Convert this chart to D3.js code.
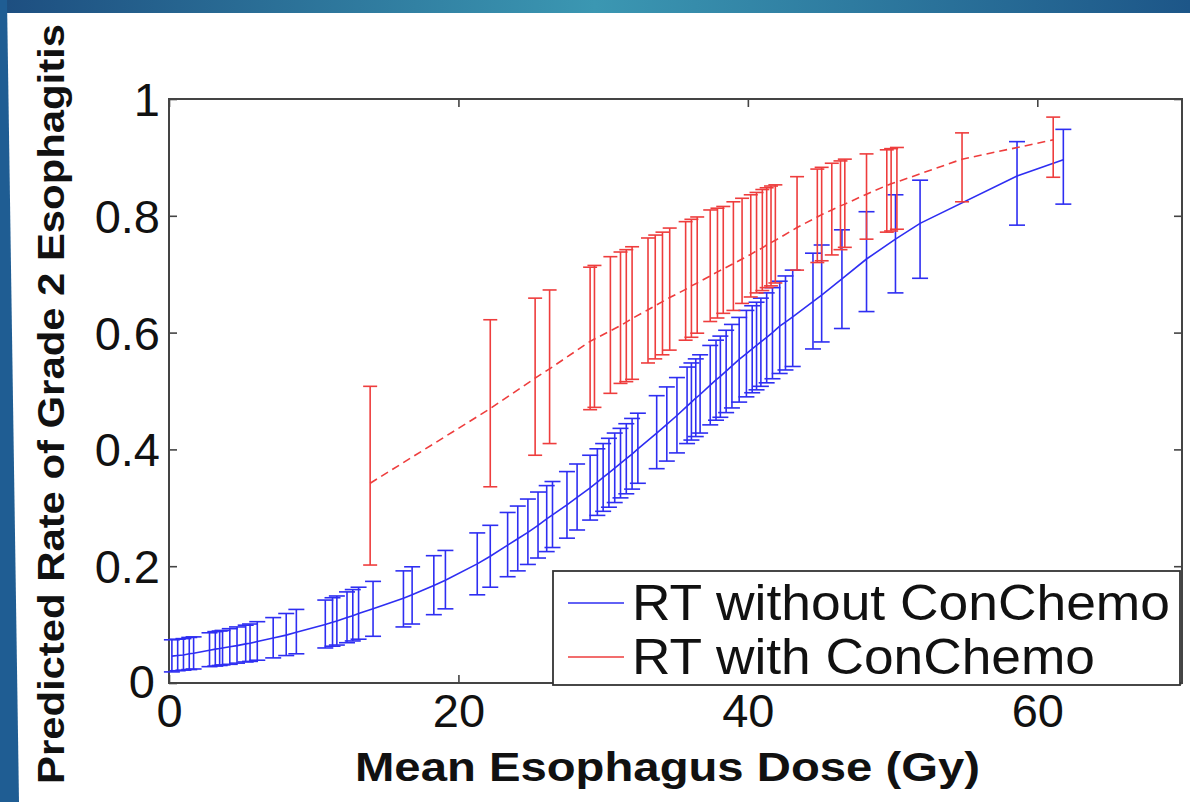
<!DOCTYPE html>
<html><head><meta charset="utf-8">
<script src="https://cdn.jsdelivr.net/npm/d3@7"></script>
<style>html,body{margin:0;padding:0;background:#fff;overflow:hidden}</style>
</head><body>
<svg id="chart" width="1190" height="802"></svg>
<script>
// ---- data ----
const blueDose = [0.2,0.6,1.0,1.4,1.7,2.8,3.2,3.5,3.7,4.2,4.7,5.3,5.6,6.1,7.2,8.1,8.8,10.8,11.3,11.6,12.3,12.7,13.1,14.1,16.2,16.8,18.3,19.1,21.3,22.2,23.4,24.1,24.8,25.5,26.1,26.5,27.5,28.2,29.1,29.6,30.0,30.4,30.8,31.2,31.6,32.0,32.4,33.7,34.4,35.1,35.8,36.1,36.4,36.7,37.4,37.8,38.1,38.5,38.9,39.4,39.9,40.3,40.6,40.9,41.3,41.7,42.2,42.6,43.1,44.5,45.1,46.5,48.2,50.2,51.9,58.6,61.8];
const blueMean = [0.046,0.047,0.048,0.050,0.051,0.056,0.058,0.059,0.060,0.062,0.064,0.067,0.068,0.071,0.077,0.082,0.087,0.100,0.104,0.106,0.112,0.115,0.119,0.127,0.145,0.151,0.167,0.176,0.204,0.217,0.236,0.247,0.258,0.270,0.281,0.288,0.305,0.318,0.334,0.344,0.352,0.360,0.368,0.376,0.384,0.392,0.401,0.428,0.443,0.458,0.474,0.481,0.488,0.494,0.510,0.519,0.525,0.534,0.543,0.554,0.564,0.572,0.578,0.584,0.592,0.600,0.611,0.618,0.627,0.653,0.664,0.692,0.726,0.760,0.787,0.868,0.896];
const blueLow  = [0.019,0.021,0.022,0.023,0.024,0.028,0.029,0.030,0.031,0.032,0.034,0.036,0.037,0.039,0.043,0.047,0.050,0.060,0.063,0.065,0.069,0.072,0.075,0.080,0.096,0.101,0.117,0.127,0.151,0.164,0.182,0.192,0.203,0.214,0.225,0.232,0.248,0.262,0.279,0.287,0.294,0.301,0.309,0.317,0.324,0.332,0.342,0.367,0.380,0.394,0.410,0.416,0.422,0.428,0.442,0.450,0.455,0.463,0.471,0.481,0.490,0.497,0.502,0.508,0.514,0.521,0.530,0.536,0.542,0.572,0.584,0.607,0.636,0.668,0.693,0.784,0.820];
const blueHigh = [0.074,0.075,0.076,0.078,0.079,0.086,0.088,0.089,0.090,0.093,0.096,0.099,0.101,0.105,0.112,0.119,0.126,0.142,0.146,0.149,0.156,0.160,0.164,0.174,0.192,0.199,0.218,0.227,0.257,0.270,0.292,0.303,0.315,0.327,0.338,0.345,0.362,0.375,0.390,0.401,0.410,0.419,0.428,0.436,0.444,0.453,0.462,0.492,0.507,0.523,0.541,0.548,0.555,0.562,0.578,0.587,0.594,0.604,0.614,0.626,0.638,0.646,0.652,0.659,0.668,0.677,0.688,0.697,0.707,0.736,0.750,0.776,0.807,0.836,0.861,0.927,0.948];

const redDose = [13.9,22.2,25.3,26.3,29.1,29.4,30.5,31.2,31.6,32.0,33.1,33.6,34.1,34.6,35.7,36.1,36.5,37.4,37.9,38.3,39.0,39.6,40.2,40.6,41.0,41.3,41.6,41.9,43.4,44.8,45.1,45.8,46.4,46.7,48.2,49.6,49.9,50.3,54.8,61.1];
const redMean = [0.342,0.470,0.522,0.538,0.585,0.589,0.603,0.612,0.618,0.624,0.639,0.646,0.653,0.660,0.674,0.680,0.685,0.697,0.704,0.709,0.718,0.726,0.734,0.740,0.745,0.750,0.754,0.758,0.780,0.798,0.802,0.810,0.817,0.820,0.837,0.852,0.855,0.858,0.897,0.930];
const redLow  = [0.202,0.336,0.390,0.410,0.468,0.472,0.496,0.513,0.516,0.520,0.548,0.555,0.562,0.570,0.587,0.592,0.599,0.619,0.625,0.633,0.638,0.650,0.661,0.668,0.672,0.677,0.680,0.685,0.707,0.720,0.723,0.733,0.742,0.746,0.760,0.772,0.774,0.777,0.824,0.866];
const redHigh = [0.508,0.622,0.659,0.673,0.712,0.715,0.730,0.738,0.742,0.747,0.762,0.767,0.772,0.779,0.790,0.794,0.798,0.810,0.813,0.816,0.824,0.830,0.836,0.840,0.845,0.848,0.851,0.853,0.867,0.880,0.883,0.890,0.894,0.897,0.906,0.913,0.915,0.917,0.942,0.969];

const xTicks = [0,20,40,60];
const yTicks = [0,0.2,0.4,0.6,0.8,1];
const yTickLabels = ["0","0.2","0.4","0.6","0.8","1"];
const seriesNames = ["RT without ConChemo","RT with ConChemo"];
const xTitle = "Mean Esophagus Dose (Gy)";
const yTitle = "Predicted Rate of Grade 2 Esophagitis";

// ---- drawing ----
const svg = d3.select("#chart");
const W = 1190, H = 802;
const L = 169, R = 1182, T = 99, B = 683;
const BLUE = "#2e2ef2", RED = "#ee3d3d";

// slide frame
const defs = svg.append("defs");
const g1 = defs.append("linearGradient").attr("id","topband").attr("x1","0").attr("x2","1");
g1.append("stop").attr("offset","0").attr("stop-color","#1d4e80");
g1.append("stop").attr("offset","0.5").attr("stop-color","#3b97b2");
g1.append("stop").attr("offset","1").attr("stop-color","#1d5688");
svg.append("rect").attr("x",0).attr("y",0).attr("width",W).attr("height",H).attr("fill","#fff");
svg.append("rect").attr("x",0).attr("y",0).attr("width",W).attr("height",13).attr("fill","url(#topband)");
svg.append("path").attr("d",`M0,0 L7,0 L19,${H} L0,${H} Z`).attr("fill","#1f5d93");

const x = d3.scaleLinear().domain([0,70]).range([L,R]);
const y = d3.scaleLinear().domain([0,1]).range([B,T]);

// plot box
svg.append("rect").attr("x",L).attr("y",T).attr("width",R-L).attr("height",B-T)
  .attr("fill","#fff").attr("stroke","#444").attr("stroke-width",2);

// ticks (inward, all four sides)
const tk = 8;
const axB = svg.append("g").attr("transform",`translate(0,${B})`)
  .call(d3.axisBottom(x).tickValues(xTicks).tickSize(-tk).tickFormat(d=>d));
const axT = svg.append("g").attr("transform",`translate(0,${T})`)
  .call(d3.axisTop(x).tickValues(xTicks).tickSize(-tk).tickFormat(""));
const axL = svg.append("g").attr("transform",`translate(${L},0)`)
  .call(d3.axisLeft(y).tickValues(yTicks).tickSize(-tk).tickFormat((d,i)=>yTickLabels[i]));
const axR = svg.append("g").attr("transform",`translate(${R},0)`)
  .call(d3.axisRight(y).tickValues(yTicks).tickSize(-tk).tickFormat(""));
[axB,axT,axL,axR].forEach(a=>{
  a.select(".domain").remove();
  a.selectAll(".tick line").attr("stroke","#444").attr("stroke-width",1.6);
});
axB.selectAll(".tick text").attr("font-family","Liberation Sans, Arial, sans-serif")
  .attr("font-size",47).attr("fill","#111").attr("y",null).attr("dy",null)
  .attr("transform","translate(0,44)");
axL.selectAll(".tick text").attr("font-family","Liberation Sans, Arial, sans-serif")
  .attr("font-size",47).attr("fill","#111").attr("x",-9).attr("dy","0.35em");
axL.selectAll(".tick").filter(d=>d===0).select("text").attr("dy","0.3em").attr("x",-14);

// error bars
function errorBars(dose, mean, lo, hi, color, cap, cls){
  const idx = d3.range(dose.length);
  const g = svg.append("g").attr("class",cls).attr("stroke",color).attr("stroke-width",1.6).attr("fill","none");
  const e = g.selectAll("g").data(idx).join("g");
  e.append("line").attr("x1",i=>x(dose[i])).attr("x2",i=>x(dose[i])).attr("y1",i=>y(lo[i])).attr("y2",i=>y(hi[i]));
  e.append("line").attr("x1",i=>x(dose[i])-cap).attr("x2",i=>x(dose[i])+cap).attr("y1",i=>y(lo[i])).attr("y2",i=>y(lo[i]));
  e.append("line").attr("x1",i=>x(dose[i])-cap).attr("x2",i=>x(dose[i])+cap).attr("y1",i=>y(hi[i])).attr("y2",i=>y(hi[i]));
  return g;
}
const line = d3.line().x(d=>x(d[0])).y(d=>y(d[1]));

errorBars(blueDose,blueMean,blueLow,blueHigh,BLUE,8,"blue");
svg.append("path").datum(blueDose.map((d,i)=>[d,blueMean[i]])).attr("d",line)
  .attr("fill","none").attr("stroke",BLUE).attr("stroke-width",1.6);

errorBars(redDose,redMean,redLow,redHigh,RED,7,"red");
svg.append("path").datum(redDose.map((d,i)=>[d,redMean[i]])).attr("d",line)
  .attr("fill","none").attr("stroke",RED).attr("stroke-width",1.6).attr("stroke-dasharray","8,5");

// legend
const lg = svg.append("g");
lg.append("rect").attr("x",553).attr("y",571).attr("width",627).attr("height",114)
  .attr("fill","#fff").attr("stroke","#333").attr("stroke-width",1.8);
const lgColors = [BLUE, RED];
const lgY = [603, 657];
const lgLen = [538, 463];
seriesNames.forEach((n,i)=>{
  lg.append("line").attr("x1",568).attr("x2",624).attr("y1",lgY[i]).attr("y2",lgY[i])
    .attr("stroke",lgColors[i]).attr("stroke-width",1.6);
  lg.append("text").attr("x",632).attr("y",lgY[i]+17).attr("font-family","Liberation Sans, Arial, sans-serif")
    .attr("font-size",50).attr("fill","#111").attr("textLength",lgLen[i]).attr("lengthAdjust","spacingAndGlyphs").text(n);
});

// titles
svg.append("text").attr("x",(L+R)/2 - 8).attr("y",781).attr("text-anchor","middle")
  .attr("font-family","Liberation Sans, Arial, sans-serif").attr("font-weight","bold").attr("font-size",40)
  .attr("fill","#111").attr("textLength",625).attr("lengthAdjust","spacingAndGlyphs").text(xTitle);
svg.append("text").attr("transform","translate(64,404) rotate(-90)").attr("text-anchor","middle")
  .attr("font-family","Liberation Sans, Arial, sans-serif").attr("font-weight","bold").attr("font-size",37)
  .attr("fill","#111").attr("textLength",760).attr("lengthAdjust","spacingAndGlyphs").text(yTitle);
</script>
</body></html>
